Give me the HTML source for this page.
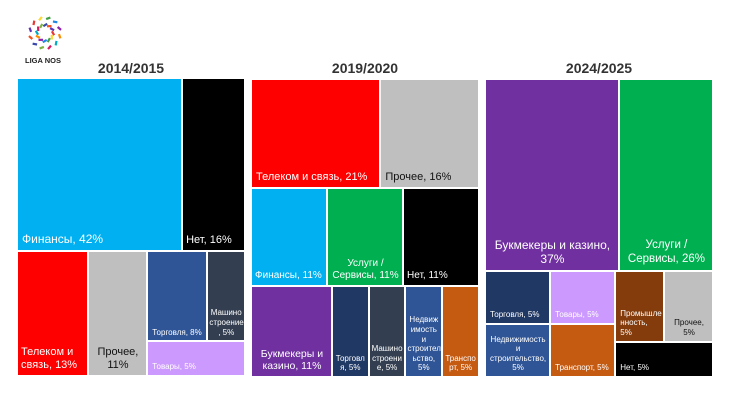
<!DOCTYPE html>
<html><head><meta charset="utf-8">
<style>
body{margin:0;width:730px;height:411px;background:#fff;position:relative;overflow:hidden;font-family:"Liberation Sans","DejaVu Sans",sans-serif}
.title{position:absolute;top:60px;font-size:14px;font-weight:bold;color:#333;text-align:center;width:230px}
.tile{position:absolute;box-sizing:border-box;display:flex;flex-direction:column;justify-content:flex-end;padding:0 3px 3px 4px;color:#fff;overflow:hidden;line-height:1.2}
</style></head><body>
<svg style="position:absolute;left:20px;top:5px" width="56" height="62">
<g id="dots"></g>
<text x="5" y="58" font-size="7.5" font-weight="bold" fill="#222" font-family="Liberation Sans, sans-serif">LIGA NOS</text>
</svg>
<div id="root"></div>
<script>
const dotColors=['#e53935','#fdd835','#43a047','#1e88e5','#8e24aa','#fb8c00','#00acc1','#d81b60','#7cb342','#3949ab','#f4511e','#5e35b1'];
const g=document.getElementById('dots');
for(let i=0;i<12;i++){for(let r of [8,15]){const a=i/12*2*Math.PI+(r>10?0.2:0);
const c=document.createElementNS('http://www.w3.org/2000/svg','rect');
c.setAttribute('x',25+Math.cos(a)*r-2);c.setAttribute('y',28+Math.sin(a)*r-1);
c.setAttribute('width',4.5);c.setAttribute('height',2.2);c.setAttribute('fill',dotColors[(i+(r>10?5:0))%12]);
c.setAttribute('transform','rotate('+(a*57+60)+' '+(25+Math.cos(a)*r)+' '+(28+Math.sin(a)*r)+')');


g.appendChild(c);}}

// ---- data ----
const p1Labels=['Финансы, 42%','Нет, 16%','Телеком и связь, 13%','Прочее, 11%','Торговля, 8%','Машино строение , 5%','Товары, 5%'];
const p1Values=[42,16,13,11,8,5,5];
const p1Colors=['#00b0f0','#000000','#ff0000','#bfbfbf','#2f5597','#333f50','#cc99ff'];
const p1Tree={d:'v',c:[{d:'h',c:[0,1]},{d:'h',c:[2,3,{d:'v',c:[{d:'h',c:[4,5]},6]}]}]};

const p2Labels=['Телеком и связь, 21%','Прочее, 16%','Финансы, 11%','Услуги / Сервисы, 11%','Нет, 11%','Букмекеры и казино, 11%','Торговл я, 5%','Машино строени е, 5%','Недвиж имость и строител ьство, 5%','Транспо рт, 5%'];
const p2Values=[21,16,11,11,11,11,5,5,5,5];
const p2Colors=['#ff0000','#bfbfbf','#00b0f0','#00b050','#000000','#7030a0','#203864','#333f50','#2f5597','#c55a11'];
const p2Tree={d:'v',c:[{d:'h',c:[0,1]},{d:'h',c:[2,3,4]},{d:'h',c:[5,6,7,8,9]}]};

const p3Labels=['Букмекеры и казино, 37%','Услуги / Сервисы, 26%','Торговля, 5%','Товары, 5%','Недвижимость и строительство, 5%','Транспорт, 5%','Промышле нность, 5%','Прочее, 5%','Нет, 5%'];
const p3Values=[37,26,5,5,5,5,5,5,5];
const p3Colors=['#7030a0','#00b050','#203864','#cc99ff','#2f5597','#c55a11','#843c0c','#bfbfbf','#000000'];
const p3Tree={d:'v',c:[{d:'h',c:[0,1]},{d:'h',c:[{d:'v',c:[{d:'h',c:[2,3]},{d:'h',c:[4,5]}]},{d:'v',c:[{d:'h',c:[6,7]},8]}]}]};

const titles=['2014/2015','2019/2020','2024/2025'];
const panels=[
 {labels:p1Labels,values:p1Values,colors:p1Colors,tree:p1Tree,box:[17,78,228,298],big:{0:12,1:11,2:11,3:11},center:[5,3]},
 {labels:p2Labels,values:p2Values,colors:p2Colors,tree:p2Tree,box:[251,79,228,298],big:{0:11,1:11,2:10,3:10,4:10,5:10.5},center:[3,5,6,7,8,9]},
 {labels:p3Labels,values:p3Values,colors:p3Colors,tree:p3Tree,box:[485,79,228,298],big:{0:12,1:11.5},center:[0,1,4,7]}
];
const root=document.getElementById('root');
function sum(n,v){return typeof n==='number'?v[n]:n.c.reduce((s,k)=>s+sum(k,v),0);}
function lay(n,x,y,w,h,P,out){
 if(typeof n==='number'){out.push([n,x,y,w,h]);return;}
 const tot=sum(n,P.values);let off=0;
 n.c.forEach(k=>{const f=sum(k,P.values)/tot;
  if(n.d==='h'){lay(k,x+off*w,y,f*w,h,P,out);}else{lay(k,x,y+off*h,w,f*h,P,out);}
  off+=f;});
}
panels.forEach((P,pi)=>{
 const t=document.createElement('div');t.className='title';
 
 
 t.textContent=titles[pi];t.style.left=(P.box[0]+P.box[2]/2-115)+'px';root.appendChild(t);
 const out=[];lay(P.tree,P.box[0],P.box[1],P.box[2],P.box[3],P,out);
 out.forEach(([i,x,y,w,h])=>{
  const d=document.createElement('div');d.className='tile';
  
  
  d.style.left=x+1+'px';d.style.top=y+1+'px';d.style.width=(w-2)+'px';d.style.height=(h-2)+'px';
  d.style.background=P.colors[i];
  if(P.colors[i]==='#bfbfbf')d.style.color='#111';
  const big=P.big[i];
  d.style.fontSize=(big||8)+'px';
  if(P.center.includes(i))d.style.textAlign='center';
  if(!big&&w<45)d.style.padding='0 1px 3px 1px';
  if(big&&w<80)d.style.padding='0 2px 3px 3px';
  d.textContent=P.labels[i];
  root.appendChild(d);
 });
});
</script>
</body></html>
